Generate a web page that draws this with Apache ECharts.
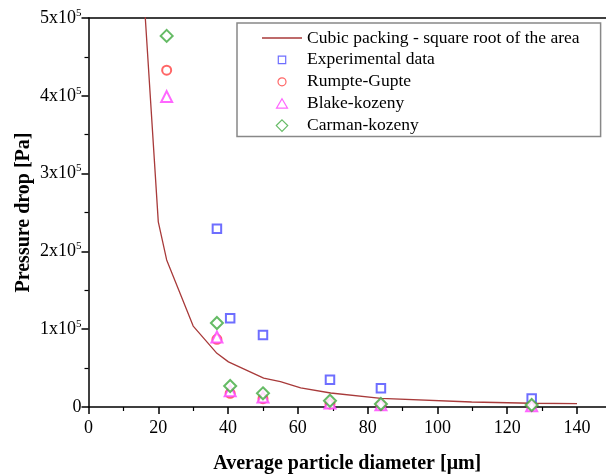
<!DOCTYPE html>
<html>
<head>
<meta charset="utf-8">
<script src="https://cdn.jsdelivr.net/npm/echarts@6/dist/echarts.min.js"></script>
<style>
html,body{margin:0;padding:0;background:#fff;}
#c{width:606px;height:474px;}
</style>
</head>
<body>
<div id="c"></div>
<script>
const xTicks = [0, 20, 40, 60, 80, 100, 120, 140];
const xMinorTicks = [10, 30, 50, 70, 90, 110, 130];
const yTicks = [0, 100000, 200000, 300000, 400000, 500000];

const lineX = [15, 20, 22.4, 30, 36.8, 40.1, 50.2, 55, 60.8, 69.4, 83.8, 109.8, 127, 140];
const lineY = [590000, 238000, 189000, 104000, 69000, 58000, 37000, 32500, 24500, 18000, 11000, 6400, 4800, 4400];

const expX = [36.8, 40.6, 50.0, 69.2, 83.8, 127.0];
const expY = [229000, 114000, 92500, 35000, 24000, 11000];

const modelX = [22.4, 36.8, 40.6, 50.0, 69.2, 83.8, 127.0];
const rumY = [433000, 87000, 17600, 10700, 4000, 2000, 1000];
const blaY = [399000, 90000, 21000, 13000, 5000, 3000, 1500];
const carY = [477000, 108000, 27000, 17600, 8000, 3900, 2600];

const names = ['Cubic packing - square root of the area', 'Experimental data', 'Rumpte-Gupte', 'Blake-kozeny', 'Carman-kozeny'];
const colors = ['#a83a3a', '#4a4aff', '#ff4040', '#ff40ff', '#3faa3f'];

const zip = (xs, ys) => xs.map((x, i) => [x, ys[i]]);
const serif = 'Liberation Serif';
const XMAX = 148.3;

const legendIcons = [
  'path://M0,0L40,0L40,1.4L0,1.4Z',
  'path://M0,0M2.3,2.3L9.7,2.3L9.7,9.7L2.3,9.7Z M12,12',
  'path://M0,0M10,6A4,4,0,1,1,2,6A4,4,0,1,1,10,6Z M12,12',
  'path://M0,0M6,1L11.5,10.5L0.5,10.5Z M12,12',
  'path://M0,0M6,0.3L11.7,6L6,11.7L0.3,6Z M12,12'
];

const chart = echarts.init(document.getElementById('c'), null, {renderer: 'canvas'});
chart.setOption({
  animation: false,
  backgroundColor: '#fff',
  grid: {left: 88.5, right: 0, top: 18, bottom: 67, containLabel: false, outerBoundsMode: 'none'},
  legend: {
    orient: 'vertical',
    left: 237, top: 23,
    padding: [6, 21, 2, 25],
    itemWidth: 40, itemHeight: 12, itemGap: 3.9,
    borderColor: '#888', borderWidth: 1.5,
    backgroundColor: '#fff',
    textStyle: {fontFamily: serif, fontSize: 17.5, color: '#000', lineHeight: 17},
    data: names.map((n, i) => ({
      name: n,
      icon: legendIcons[i],
      itemStyle: i === 0 ? {color: colors[0], borderWidth: 0}
        : {color: '#fff', borderColor: colors[i], borderWidth: 1.2}
    }))
  },
  xAxis: [{
    type: 'value', min: 0, max: XMAX,
    name: 'Average particle diameter [μm]', nameLocation: 'middle', nameGap: 47, nameMoveOverlap: false,
    nameTextStyle: {fontFamily: serif, fontSize: 20, fontWeight: 'bold', color: '#000', verticalAlign: 'top'},
    axisLine: {lineStyle: {color: '#000', width: 1.5}},
    axisTick: {inside: false, length: 7, customValues: xTicks, lineStyle: {color: '#000', width: 1.5}},
    minorTick: {show: false},
    axisLabel: {fontFamily: serif, fontSize: 18, color: '#000', margin: 12, customValues: xTicks,
      formatter: v => String(v)},
    splitLine: {show: false}
  }, {
    type: 'value', position: 'top', min: 0, max: XMAX,
    axisLine: {show: true, onZero: false, lineStyle: {color: '#000', width: 1.5}},
    axisTick: {show: false}, axisLabel: {show: false}, splitLine: {show: false}
  }, {
    type: 'value', position: 'bottom', min: 0, max: XMAX,
    axisLine: {show: false, onZero: false},
    axisTick: {show: true, inside: false, length: 4, customValues: xMinorTicks, lineStyle: {color: '#000', width: 1.2}},
    axisLabel: {show: false}, splitLine: {show: false}
  }],
  yAxis: {
    type: 'value', min: 0, max: 500000, interval: 100000,
    name: 'Pressure drop [Pa]', nameLocation: 'middle', nameGap: 55, nameRotate: 90, nameMoveOverlap: false,
    nameTextStyle: {fontFamily: serif, fontSize: 20, fontWeight: 'bold', color: '#000'},
    axisLine: {show: true, lineStyle: {color: '#000', width: 1.5}},
    axisTick: {show: true, inside: false, length: 7, lineStyle: {color: '#000', width: 1.5}},
    minorTick: {show: true, splitNumber: 2, length: 4, lineStyle: {color: '#000', width: 1.2}},
    axisLabel: {
      fontFamily: serif, fontSize: 18, color: '#000', margin: 7,
      formatter: v => {
        if (!yTicks.includes(v)) return '';
        if (v === 0) return '0';
        return '{b|' + (v / 100000) + 'x10}{s|5}';
      },
      rich: {
        b: {fontFamily: serif, fontSize: 18, color: '#000'},
        s: {fontFamily: serif, fontSize: 11, color: '#000', padding: [0, 0, 10, 0]}
      }
    },
    splitLine: {show: false}
  },
  series: [
    {name: names[0], type: 'line', data: zip(lineX, lineY), symbol: 'none', showSymbol: false,
      lineStyle: {color: colors[0], width: 1.3}, itemStyle: {color: colors[0]}, clip: true, z: 2},
    {name: names[1], type: 'scatter', data: zip(expX, expY), symbol: 'emptyRect', symbolSize: 8.5,
      itemStyle: {color: colors[1], borderWidth: 1.2}, z: 3},
    {name: names[2], type: 'scatter', data: zip(modelX, rumY), symbol: 'emptyCircle', symbolSize: 9,
      itemStyle: {color: colors[2], borderWidth: 1.2}, z: 3},
    {name: names[3], type: 'scatter', data: zip(modelX, blaY), symbol: 'emptyTriangle', symbolSize: 11,
      itemStyle: {color: colors[3], borderWidth: 1.2}, z: 3},
    {name: names[4], type: 'scatter', data: zip(modelX, carY), symbol: 'emptyDiamond', symbolSize: 12,
      itemStyle: {color: colors[4], borderWidth: 1.2}, z: 3}
  ]
});
</script>
</body>
</html>
